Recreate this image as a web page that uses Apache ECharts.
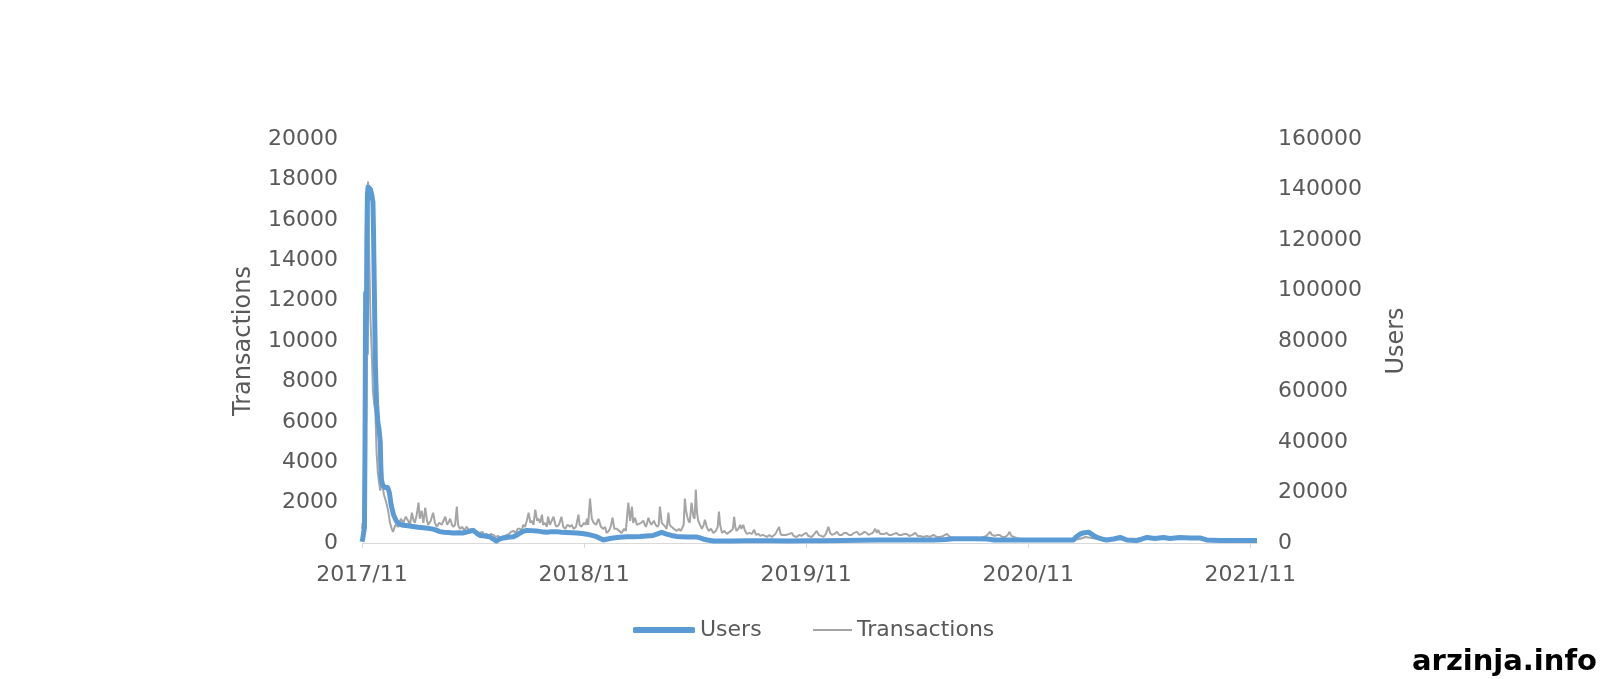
<!DOCTYPE html>
<html><head><meta charset="utf-8">
<script src="https://cdn.jsdelivr.net/npm/echarts@6/dist/echarts.min.js"></script>
<style>html,body{margin:0;padding:0;background:#fff}#c{width:1601px;height:679px}</style>
</head><body><div id="c"></div>
<script>
// x values are days since the first data day (2017/11)
const xTickLabels = ['2017/11', '2018/11', '2019/11', '2020/11', '2021/11'];
const xTickDays = [0, 365.25, 730.5, 1095.75, 1461];
const leftTicks = [0, 20000, 2000];     // min, max, step (Transactions)
const rightTicks = [0, 160000, 20000];  // min, max, step (Users)

// [day, users]
const usersPoints = [
[0,500],[1,1500],[2,3000],[3,2500],[4,6000],[5,40000],[6,99000],[7,75000],[8,120000],[9,138000],
[10,141000],[12,141500],[14,140000],[16,138000],[18,135000],[19,122000],[20,105000],[21,88000],[22,70000],[24,55000],
[26,48000],[28,45000],[30,40000],[31,30000],[32,25000],[34,23000],[38,22000],[42,22000],[45,20000],[48,15000],
[52,11000],[57,8500],[62,7500],[68,7000],[75,6800],[84,6500],[92,6200],[101,6000],[109,5800],[117,5500],[123,5000],
[128,4500],[135,4300],[142,4200],[150,4000],[158,4100],[167,4000],[175,4500],[183,5000],[188,4000],[194,3000],
[202,2800],[210,2500],[216,1500],[221,800],[226,1500],[232,2000],[240,2300],[249,2500],[255,3200],[260,4000],
[265,4600],[271,5000],[279,4900],[287,4800],[295,4500],[304,4300],[312,4500],[320,4500],[328,4300],[337,4200],
[345,4100],[353,4000],[362,3800],[370,3500],[378,3000],[386,2500],[392,1800],[397,1200],[402,1500],[408,1800],
[413,2000],[424,2300],[435,2500],[446,2500],[457,2600],[468,2800],[479,3000],[486,3600],[493,4200],[501,3500],
[509,3000],[518,2600],[526,2500],[534,2400],[542,2400],[550,2400],[556,2000],[561,1600],[568,1200],[578,800],
[590,800],[610,800],[630,850],[650,900],[675,850],[700,800],[730,850],[760,900],[790,1000],[820,1100],
[850,1200],[880,1200],[910,1200],[940,1200],[960,1400],[973,1700],[990,1700],[1010,1700],[1028,1600],[1040,1200],
[1060,1200],[1080,1200],[1100,1200],[1115,1200],[1140,1200],[1170,1200],[1175,2500],[1181,3500],[1186,4000],[1195,4300],
[1203,3000],[1211,2000],[1218,1500],[1225,1200],[1236,1600],[1247,2200],[1258,1200],[1274,1000],[1282,1500],[1291,2200],
[1304,1800],[1318,2200],[1329,1800],[1345,2200],[1362,2000],[1378,2000],[1389,1200],[1400,1100],[1411,1000],[1440,1000],
[1472,1000]
];

// [day, transactions]
const transactionsPoints = [
[0,700],[1,1000],[2,800],[3,1300],[4,2000],[5,5000],[6,9000],[7,6000],[8,14000],[9,17000],
[10,17900],[11,16000],[12,14000],[14,11000],[16,9500],[18,7500],[20,6900],[22,6500],[24,4500],[26,3500],
[28,3000],[30,2600],[33,3000],[36,2400],[40,2000],[43,1600],[46,1000],[49,700],[51,550],[55,900],
[60,800],[64,1200],[68,1000],[72,1300],[76,1100],[79,900],[82,1500],[85,1100],[87,1000],[90,1400],
[93,2000],[95,1200],[98,1600],[101,1000],[104,1750],[107,1100],[109,900],[113,1100],[117,1500],[120,1000],
[123,800],[127,1000],[131,900],[134,1100],[137,1300],[140,900],[142,1000],[145,1200],[148,900],[150,800],
[153,900],[156,1800],[158,900],[161,700],[165,800],[168,600],[172,800],[176,650],[180,700],[183,600],
[187,550],[190,600],[194,500],[198,550],[201,400],[205,450],[209,350],[212,450],[216,400],[220,300],
[224,350],[227,250],[231,300],[235,350],[238,400],[242,450],[245,550],[249,600],[253,500],[256,700],
[260,700],[263,600],[265,900],[268,800],[271,1100],[274,1500],[277,1000],[279,1100],[282,900],[285,1650],
[288,1100],[290,1200],[293,1000],[296,1400],[298,900],[301,1000],[304,800],[306,1300],[309,900],[312,900],
[315,1300],[318,900],[320,800],[324,900],[328,1300],[331,800],[334,700],[338,900],[342,800],[345,900],
[348,700],[352,800],[356,1400],[358,900],[361,800],[365,1000],[368,900],[370,1200],[372,900],[375,2200],
[378,1200],[381,1000],[385,900],[389,1200],[393,800],[397,700],[400,800],[402,500],[406,600],[409,800],
[412,1250],[415,700],[419,700],[423,600],[427,500],[431,700],[434,600],[438,2000],[441,1100],[444,1800],
[446,1000],[449,1250],[452,900],[455,900],[459,1000],[463,1100],[465,900],[467,800],[469,1000],[471,1250],
[474,1000],[476,900],[478,1000],[480,1100],[483,900],[486,800],[488,900],[490,1800],[493,1000],[496,900],
[499,800],[501,700],[504,1500],[506,900],[509,800],[513,700],[518,600],[521,700],[524,600],[526,700],
[529,900],[531,2200],[533,1600],[535,1300],[537,1100],[539,1000],[542,2000],[545,1300],[547,1200],[549,2650],
[551,1500],[553,1100],[556,900],[559,700],[562,900],[564,1150],[567,800],[570,600],[574,700],[578,500],
[582,600],[585,800],[587,1550],[589,900],[592,500],[596,600],[600,450],[603,450],[607,600],[610,700],
[612,1300],[614,800],[616,600],[619,700],[622,900],[624,700],[627,900],[630,600],[633,450],[637,500],
[641,450],[645,650],[648,400],[652,450],[655,350],[659,400],[662,450],[666,300],[670,400],[674,300],
[677,350],[680,450],[683,400],[686,800],[688,500],[690,400],[693,350],[697,400],[700,350],[703,450],
[707,500],[710,350],[713,400],[715,300],[719,400],[723,350],[727,450],[731,500],[734,350],[737,400],
[740,300],[744,450],[748,600],[751,400],[755,350],[759,300],[763,450],[767,800],[770,500],[773,400],
[777,450],[781,550],[785,400],[789,400],[793,500],[797,500],[801,400],[805,400],[809,500],[812,450],
[814,550],[818,400],[822,450],[826,550],[830,500],[833,400],[836,400],[840,500],[844,700],[847,500],
[849,650],[852,450],[855,400],[859,450],[863,500],[867,400],[871,400],[875,450],[879,500],[883,400],
[888,400],[892,450],[896,450],[900,350],[905,400],[910,500],[914,350],[918,350],[923,300],[929,350],
[934,300],[940,400],[945,300],[951,300],[956,350],[962,450],[967,300],[973,250],[980,250],[987,200],
[993,250],[1000,250],[1007,250],[1014,200],[1022,300],[1027,350],[1030,450],[1033,550],[1036,400],[1041,350],
[1045,400],[1049,400],[1053,300],[1058,300],[1062,400],[1065,550],[1068,350],[1071,300],[1076,250],[1082,200],
[1090,200],[1100,200],[1110,180],[1120,200],[1130,180],[1140,150],[1150,160],[1160,170],[1170,160],[1180,200],
[1190,300],[1200,250],[1210,200],[1220,160],[1230,170],[1240,200],[1250,180],[1260,160],[1270,150],[1280,180],
[1290,220],[1300,200],[1310,220],[1320,200],[1330,220],[1340,230],[1350,220],[1360,200],[1370,210],[1380,200],
[1390,160],[1400,150],[1410,140],[1420,140],[1430,130],[1440,130],[1450,130],[1460,130],[1470,130]
];

const FONT = '"DejaVu Sans", sans-serif';
const TXT = '#595959';
const plain = v => String(v);
const chart = echarts.init(document.getElementById('c'), null, {renderer: 'canvas'});
chart.setOption({
  animation: false,
  backgroundColor: '#ffffff',
  grid: {left: 362, right: 344, top: 139, bottom: 136, containLabel: false},
  legend: [
    {data: ['Users'], left: 628, top: 614, icon: 'roundRect', itemWidth: 62, itemHeight: 6, itemGap: 0,
     textStyle: {fontFamily: FONT, fontSize: 22, color: TXT}},
    {data: ['Transactions'], left: 808, top: 614, icon: 'rect', itemWidth: 39, itemHeight: 2, itemGap: 0,
     textStyle: {fontFamily: FONT, fontSize: 22, color: TXT}}
  ],
  xAxis: {
    type: 'value', min: 0, max: 1472, interval: 365.25,
    axisLine: {show: true, lineStyle: {color: '#D9D9D9', width: 1}},
    axisTick: {show: true, length: 5, lineStyle: {color: '#D9D9D9'}, customValues: xTickDays},
    splitLine: {show: false},
    axisLabel: {
      customValues: xTickDays, margin: 21, fontFamily: FONT, fontSize: 22, color: TXT,
      formatter: v => { const i = xTickDays.findIndex(d => Math.abs(d - v) < 0.5); return i >= 0 ? xTickLabels[i] : ''; }
    }
  },
  yAxis: [
    {type: 'value', min: leftTicks[0], max: leftTicks[1], interval: leftTicks[2], position: 'left',
     name: 'Transactions', nameLocation: 'middle', nameGap: 106,
     nameTextStyle: {fontFamily: FONT, fontSize: 24, color: TXT},
     axisLine: {show: false}, axisTick: {show: false}, splitLine: {show: false},
     axisLabel: {margin: 24, fontFamily: FONT, fontSize: 22, color: TXT, formatter: plain}},
    {type: 'value', min: rightTicks[0], max: rightTicks[1], interval: rightTicks[2], position: 'right',
     name: 'Users', nameLocation: 'middle', nameGap: 128,
     nameTextStyle: {fontFamily: FONT, fontSize: 24, color: TXT},
     axisLine: {show: false}, axisTick: {show: false}, splitLine: {show: false},
     axisLabel: {margin: 21, fontFamily: FONT, fontSize: 22, color: TXT, formatter: plain}}
  ],
  series: [
    {name: 'Users', type: 'line', yAxisIndex: 1, data: usersPoints, showSymbol: false, symbol: 'none',
     z: 3, color: '#5B9BD5', lineStyle: {width: 5, color: '#5B9BD5', join: 'round'}},
    {name: 'Transactions', type: 'line', yAxisIndex: 0, data: transactionsPoints, showSymbol: false, symbol: 'none',
     z: 2, color: '#A5A5A5', lineStyle: {width: 2, color: '#A5A5A5'}}
  ],
  graphic: [
    {type: 'text', right: 4, bottom: 2,
     style: {text: 'arzinja.info', font: 'bold 29px "DejaVu Sans", sans-serif', fill: '#000000'}}
  ]
});
</script>
</body></html>
